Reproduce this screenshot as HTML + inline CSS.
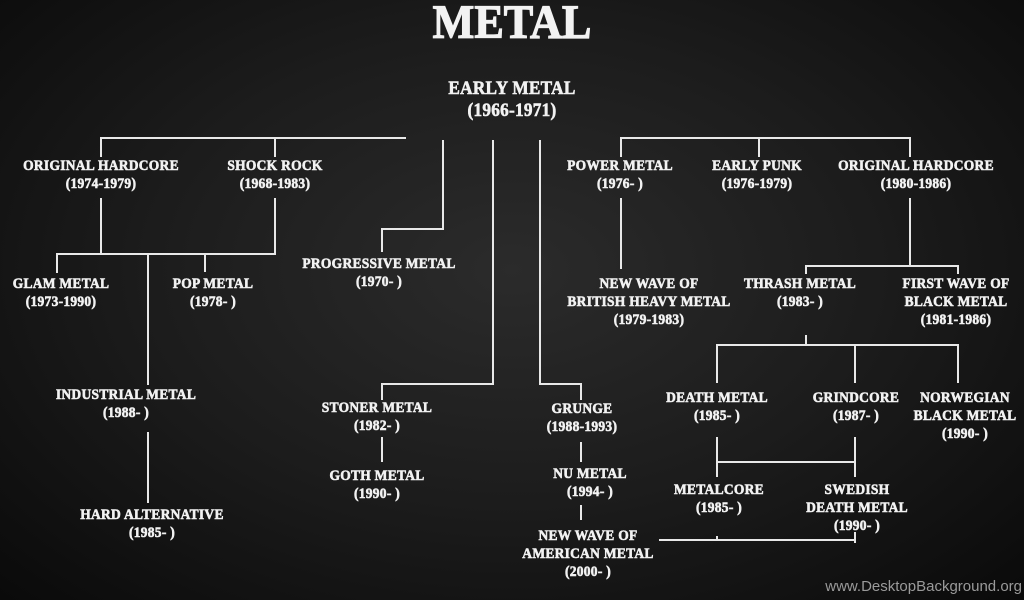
<!DOCTYPE html>
<html><head><meta charset="utf-8"><style>
html,body{margin:0;padding:0}
body{width:1024px;height:600px;overflow:hidden;position:relative;
background:radial-gradient(ellipse at 50% 45%,#2b2b2b 0%,#1c1c1c 50%,#0a0a0a 100%);
font-family:"Liberation Serif",serif;font-weight:bold;color:#f2f2f2}
.t{position:absolute;width:240px;text-align:center;font-size:14.5px;line-height:18px;white-space:nowrap;transform:scaleX(0.93);-webkit-text-stroke:0.6px #f2f2f2;letter-spacing:0.3px}
svg{position:absolute;left:0;top:0}
</style></head><body>
<svg width="1024" height="600" stroke="#e8e8e8" stroke-width="2" fill="none">
<path d="M101 157V138H406M275 138V157"/>
<path d="M101 198V254M275 198V254H57V273M205 254V272M148 254V385M148 432V503"/>
<path d="M443 140V229H382V252"/>
<path d="M493 140V384H382V400M382 437V462"/>
<path d="M540 140V384H581V400M581 442V462M581 505V520"/>
<path d="M621 157V138H910V157M759 138V157"/>
<path d="M621 198V269"/>
<path d="M910 198V266M806 274V266H958V274"/>
<path d="M806 335V345M717 383V345H958V383M855 345V383"/>
<path d="M717 437V477M855 437V477M717 462H855"/>
<path d="M659 540H855M717 536V540M855 532V543"/>
</svg>
<div style="position:absolute;left:312px;width:400px;top:-3px;text-align:center;font-size:48px;line-height:52px;transform:scaleX(0.92);-webkit-text-stroke:1.2px #f2f2f2">METAL</div>
<div class="t" style="left:392px;top:78px;font-size:18.5px;line-height:22px">EARLY METAL<br>(1966-1971)</div>
<div class="t" style="left:-19px;top:157px">ORIGINAL HARDCORE<br>(1974-1979)</div>
<div class="t" style="left:155px;top:157px">SHOCK ROCK<br>(1968-1983)</div>
<div class="t" style="left:-59px;top:275px">GLAM METAL<br>(1973-1990)</div>
<div class="t" style="left:93px;top:275px">POP METAL<br>(1978- )</div>
<div class="t" style="left:259px;top:255px">PROGRESSIVE METAL<br>(1970- )</div>
<div class="t" style="left:6px;top:386px">INDUSTRIAL METAL<br>(1988- )</div>
<div class="t" style="left:32px;top:506px">HARD ALTERNATIVE<br>(1985- )</div>
<div class="t" style="left:257px;top:399px">STONER METAL<br>(1982- )</div>
<div class="t" style="left:257px;top:467px">GOTH METAL<br>(1990- )</div>
<div class="t" style="left:462px;top:400px">GRUNGE<br>(1988-1993)</div>
<div class="t" style="left:470px;top:465px">NU METAL<br>(1994- )</div>
<div class="t" style="left:468px;top:527px">NEW WAVE OF<br>AMERICAN METAL<br>(2000- )</div>
<div class="t" style="left:500px;top:157px">POWER METAL<br>(1976- )</div>
<div class="t" style="left:637px;top:157px">EARLY PUNK<br>(1976-1979)</div>
<div class="t" style="left:796px;top:157px">ORIGINAL HARDCORE<br>(1980-1986)</div>
<div class="t" style="left:529px;top:275px">NEW WAVE OF<br>BRITISH HEAVY METAL<br>(1979-1983)</div>
<div class="t" style="left:680px;top:275px">THRASH METAL<br>(1983- )</div>
<div class="t" style="left:836px;top:275px">FIRST WAVE OF<br>BLACK METAL<br>(1981-1986)</div>
<div class="t" style="left:597px;top:389px">DEATH METAL<br>(1985- )</div>
<div class="t" style="left:736px;top:389px">GRINDCORE<br>(1987- )</div>
<div class="t" style="left:845px;top:389px">NORWEGIAN<br>BLACK METAL<br>(1990- )</div>
<div class="t" style="left:599px;top:481px">METALCORE<br>(1985- )</div>
<div class="t" style="left:737px;top:481px">SWEDISH<br>DEATH METAL<br>(1990- )</div>
<div style="position:absolute;right:2px;top:578px;font-family:'Liberation Sans',sans-serif;font-weight:normal;font-size:15px;color:#9a9a9a">www.DesktopBackground.org</div>
</body></html>
